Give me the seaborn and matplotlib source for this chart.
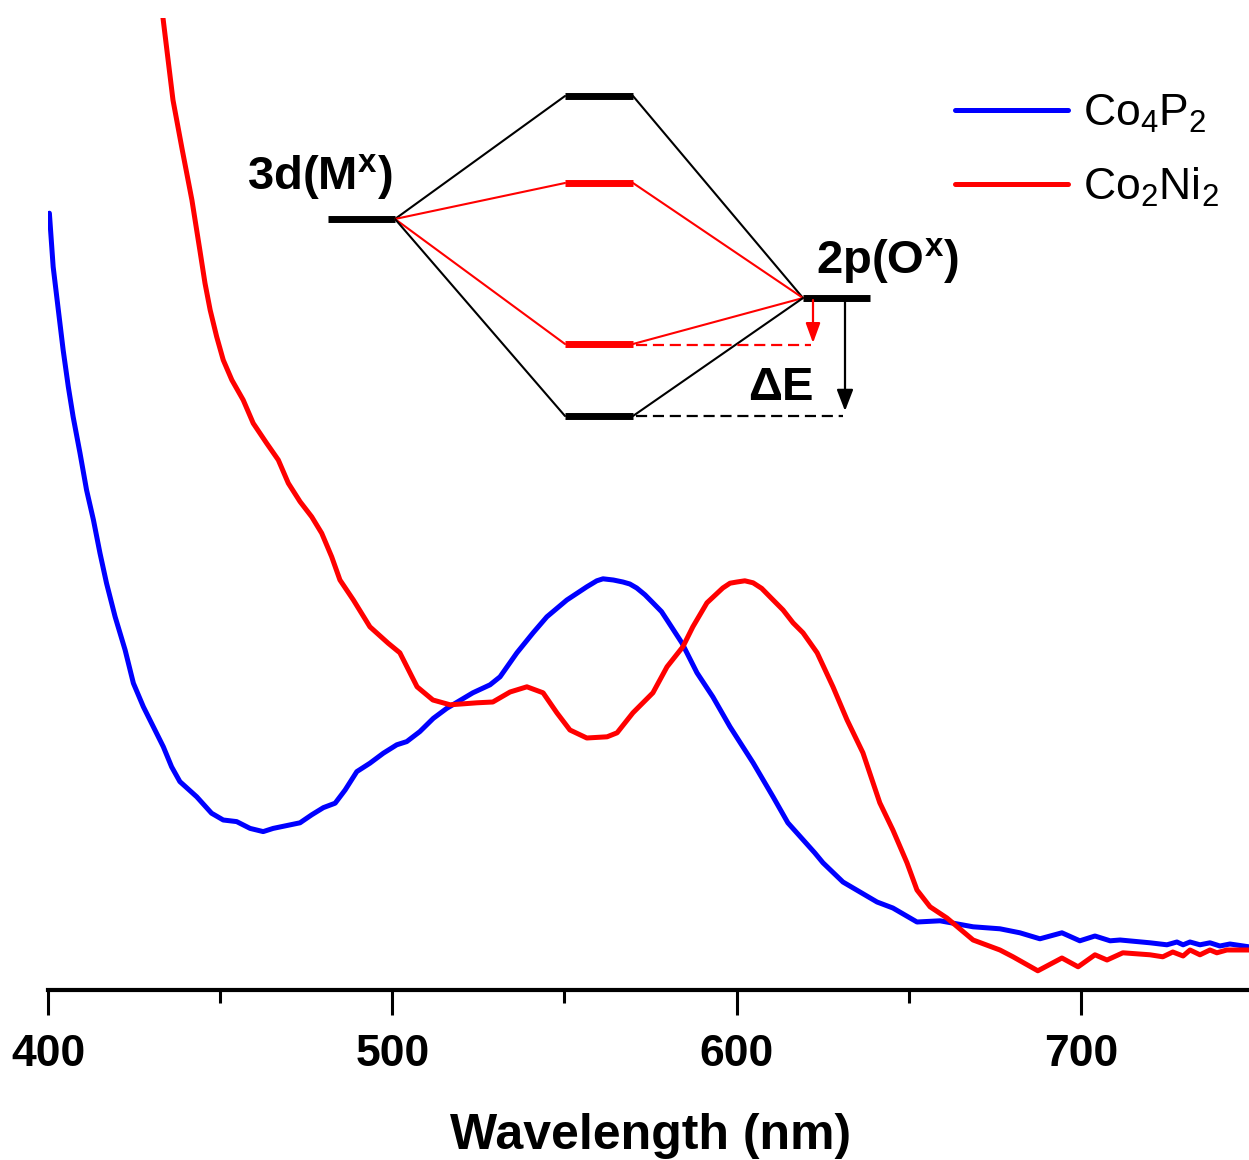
import numpy as np
import pandas as pd
import matplotlib
matplotlib.use("Agg")
import matplotlib.pyplot as plt
from matplotlib.lines import Line2D
from matplotlib.ticker import MultipleLocator
import seaborn as sns

# UV-vis absorption spectra (wavelength in nm, absorbance in a.u.)
co4p2_nm = [400.4, 401.5, 403.0, 404.4, 405.9, 407.3, 409.3, 411.2, 413.2, 415.1,
            417.0, 419.5, 422.4, 424.8, 427.7, 430.6, 433.5, 435.9, 438.3, 443.2,
            447.5, 450.9, 454.8, 458.7, 462.5, 465.4, 469.3, 473.2, 476.6, 480.0,
            483.4, 486.3, 489.7, 493.5, 497.4, 501.3, 504.2, 508.0, 511.9, 515.8,
            523.4, 528.4, 531.3, 536.2, 540.9, 544.9, 550.7, 556.5, 559.4, 561.2,
            564.2, 567.0, 569.0, 571.0, 573.4, 575.7, 578.2, 579.8, 584.1, 588.5,
            593.1, 598.1, 604.8, 610.6, 614.9, 622.7, 625.1, 630.9, 640.8, 645.4,
            652.4, 659.1, 668.7, 676.5, 682.3, 688.1, 694.5, 699.7, 704.1, 708.5,
            711.4, 720.1, 725.0, 727.9, 729.7, 731.7, 734.6, 737.5, 740.4, 743.3,
            748.8]
co4p2_abs = [1.942, 1.808, 1.700, 1.600, 1.508, 1.433, 1.342, 1.250, 1.175, 1.092,
             1.017, 0.933, 0.850, 0.767, 0.708, 0.658, 0.608, 0.558, 0.521, 0.483,
             0.442, 0.425, 0.421, 0.404, 0.396, 0.404, 0.411, 0.418, 0.438, 0.456,
             0.467, 0.500, 0.546, 0.567, 0.592, 0.613, 0.621, 0.646, 0.679, 0.704,
             0.743, 0.763, 0.783, 0.843, 0.893, 0.933, 0.975, 1.008, 1.023, 1.028,
             1.025, 1.020, 1.015, 1.005, 0.988, 0.968, 0.946, 0.925, 0.868, 0.793,
             0.733, 0.658, 0.568, 0.483, 0.418, 0.343, 0.318, 0.270, 0.220, 0.205,
             0.170, 0.173, 0.158, 0.153, 0.143, 0.128, 0.143, 0.123, 0.135, 0.123,
             0.125, 0.118, 0.113, 0.120, 0.113, 0.120, 0.113, 0.118, 0.110, 0.115,
             0.108]

co2ni2_nm = [432.5, 433.4, 436.3, 439.0, 441.8, 444.1, 445.6, 447.1, 449.0, 450.9,
             453.4, 456.7, 459.6, 463.5, 466.9, 469.8, 473.2, 476.6, 479.5, 482.4,
             484.8, 488.7, 493.5, 498.8, 502.2, 507.2, 511.8, 516.8, 524.6, 529.2,
             534.2, 539.1, 543.8, 547.8, 551.6, 556.5, 562.4, 565.3, 569.9, 575.7,
             579.8, 584.4, 587.3, 591.4, 596.0, 598.1, 600.1, 602.4, 604.8, 607.3,
             609.7, 613.5, 616.4, 619.3, 623.4, 628.0, 632.1, 636.7, 641.6, 645.4,
             649.5, 652.4, 656.2, 661.1, 668.7, 676.5, 680.3, 687.5, 694.5, 699.2,
             704.1, 707.6, 712.2, 720.1, 723.8, 726.7, 729.7, 731.7, 734.6, 737.5,
             739.5, 742.4, 748.8]
co2ni2_abs = [2.493, 2.430, 2.225, 2.100, 1.975, 1.850, 1.767, 1.700, 1.633, 1.575,
              1.525, 1.475, 1.417, 1.367, 1.325, 1.267, 1.221, 1.183, 1.142, 1.083,
              1.025, 0.975, 0.908, 0.867, 0.843, 0.758, 0.725, 0.713, 0.718, 0.720,
              0.745, 0.758, 0.743, 0.693, 0.650, 0.630, 0.633, 0.643, 0.693, 0.743,
              0.808, 0.858, 0.908, 0.968, 1.005, 1.017, 1.020, 1.023, 1.018, 1.004,
              0.983, 0.950, 0.918, 0.893, 0.843, 0.758, 0.675, 0.593, 0.468, 0.400,
              0.318, 0.250, 0.208, 0.180, 0.125, 0.100, 0.083, 0.048, 0.080, 0.058,
              0.088, 0.075, 0.093, 0.088, 0.083, 0.095, 0.085, 0.100, 0.088, 0.100,
              0.093, 0.100, 0.100]

sample_labels = [r"Co$_4$P$_2$", r"Co$_2$Ni$_2$"]
sample_colors = ["#0000ff", "#ff0000"]
x_ticks = [400, 500, 600, 700]
x_label = "Wavelength (nm)"

sns.set_theme(style="ticks", rc={
    "axes.edgecolor": "black", "xtick.color": "black", "ytick.color": "black",
    "text.color": "black", "axes.labelcolor": "black",
})
plt.rcParams["font.family"] = ["Liberation Sans", "DejaVu Sans"]
plt.rcParams["mathtext.fontset"] = "custom"
plt.rcParams["mathtext.rm"] = "Liberation Sans"
plt.rcParams["mathtext.it"] = "Liberation Sans:italic"
plt.rcParams["mathtext.bf"] = "Liberation Sans:bold"

df = pd.concat([
    pd.DataFrame({"Wavelength": co4p2_nm, "Absorbance": co4p2_abs, "Sample": sample_labels[0]}),
    pd.DataFrame({"Wavelength": co2ni2_nm, "Absorbance": co2ni2_abs, "Sample": sample_labels[1]}),
], ignore_index=True)

W, H = 1249, 1160
fig = plt.figure(figsize=(W / 100, H / 100), dpi=100)
ax = fig.add_axes([48 / W, 170 / H, 1205 / W, 972 / H])

sns.lineplot(data=df, x="Wavelength", y="Absorbance", hue="Sample",
             palette=dict(zip(sample_labels, sample_colors)), estimator=None,
             sort=False, linewidth=3.6, legend=False, ax=ax)
for ln in ax.lines:
    ln.set_solid_joinstyle("round")
    ln.set_solid_capstyle("round")

ax.set_xlim(400, 750)
ax.set_ylim(0, 2.43)
ax.set_xticks(x_ticks)
ax.xaxis.set_minor_locator(MultipleLocator(50))
ax.tick_params(axis="x", which="major", direction="out", length=18, width=2.2,
               pad=14, labelsize=32)
ax.tick_params(axis="x", which="minor", direction="out", length=9.5, width=2.2)
for lbl in ax.get_xticklabels():
    lbl.set_fontweight("bold")
ax.set_yticks([])
ax.set_ylabel("")
ax.set_xlabel(x_label, fontsize=36, fontweight="bold", labelpad=27)
for side in ("left", "top", "right"):
    ax.spines[side].set_visible(False)
ax.spines["bottom"].set_linewidth(3.0)

handles = [Line2D([], [], color=c, lw=3.6) for c in sample_colors]
ax.legend(handles, sample_labels, loc="upper left",
          bbox_to_anchor=(955 / W, 1 - 93 / H), bbox_transform=fig.transFigure,
          frameon=False, fontsize=32, handlelength=2.55, handletextpad=0.34,
          labelspacing=0.69, borderpad=0, borderaxespad=0)

# Molecular-orbital energy diagram drawn on a pixel-unit overlay
dax = fig.add_axes([0, 0, 1, 1], zorder=3)
dax.set_xlim(0, W)
dax.set_ylim(H, 0)
dax.axis("off")
dax.patch.set_alpha(0)

red = "#ff0000"
metal = (328, 395, 219)
oxygen = (803, 870, 298)
mo_levels = [(96, "black"), (183, red), (344, red), (416, "black")]
mo_x0, mo_x1 = 565, 633

for lvl in (metal, oxygen):
    dax.plot([lvl[0], lvl[1]], [lvl[2], lvl[2]], color="black", lw=5,
             solid_capstyle="butt")
for y, c in mo_levels:
    dax.plot([mo_x0, mo_x1], [y, y], color=c, lw=5, solid_capstyle="butt", zorder=4)
    dax.plot([metal[1], mo_x0], [metal[2], y], color=c, lw=1.5)
    dax.plot([mo_x1, oxygen[0]], [y, oxygen[2]], color=c, lw=1.5)

dax.plot([636, 811], [345, 345], color=red, lw=1.6, dashes=(5, 2.6))
dax.plot([636, 843], [416, 416], color="black", lw=1.6, dashes=(5, 2.6))
dax.annotate("", xy=(813, 343), xytext=(813, 300),
             arrowprops=dict(arrowstyle="-|>,head_length=0.6,head_width=0.22",
                             color=red, lw=1.6, shrinkA=0, shrinkB=0,
                             mutation_scale=20))
dax.annotate("", xy=(845, 411), xytext=(845, 300),
             arrowprops=dict(arrowstyle="-|>,head_length=0.65,head_width=0.25",
                             color="black", lw=1.6, shrinkA=0, shrinkB=0,
                             mutation_scale=20))

dax.text(320, 190, r"3d(M$^{\mathbf{x}}$)", ha="center", va="baseline",
         fontsize=34, fontweight="bold")
dax.text(888, 273, r"2p(O$^{\mathbf{x}}$)", ha="center", va="baseline",
         fontsize=34, fontweight="bold")
dax.text(781, 400, "ΔE", ha="center", va="baseline", fontsize=34,
         fontweight="bold")

fig.savefig("out.png", dpi=100)
